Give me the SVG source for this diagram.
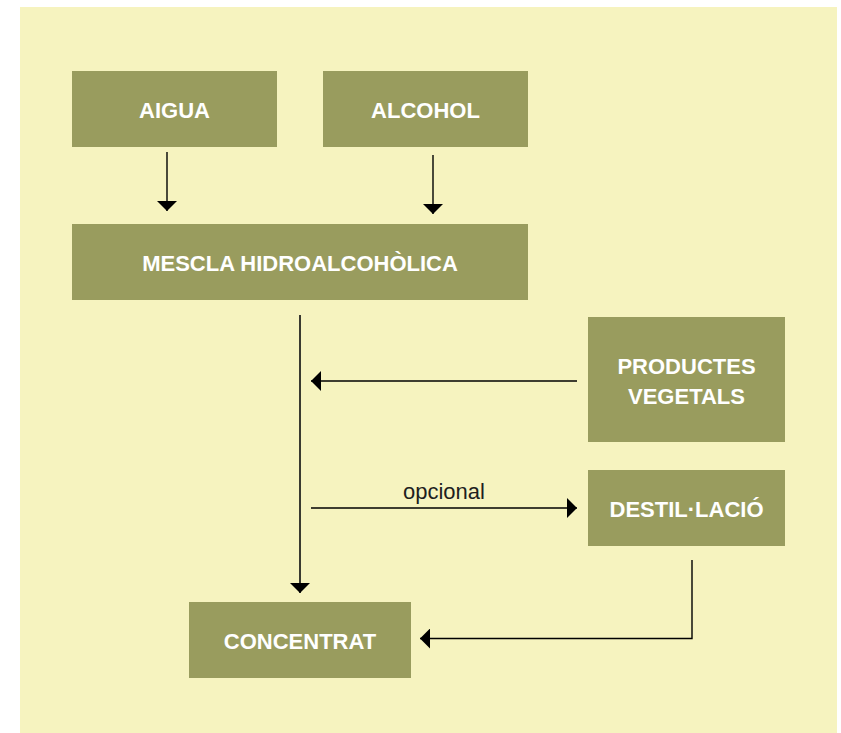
<svg xmlns="http://www.w3.org/2000/svg" width="841" height="733" viewBox="0 0 841 733">
  <defs>
    <style>
      .bg { fill: #f6f3bf; }
      .box { fill: #999c5e; }
      .lbl { font-family: "Liberation Sans", Arial, sans-serif; font-size: 22px; font-weight: bold; fill: #ffffff; text-anchor: middle; }
      .note { font-family: "Liberation Sans", Arial, sans-serif; font-size: 22px; fill: #1e1e1e; text-anchor: middle; }
      .ln { fill: none; stroke: #000000; stroke-width: 1.4; }
      .main { fill: none; stroke: #3a3a30; stroke-width: 2; }
    </style>
    <marker id="ah" viewBox="0 0 10 20" refX="10" refY="10" markerWidth="10" markerHeight="20" markerUnits="userSpaceOnUse" orient="auto">
      <path d="M0,0 L10,10 L0,20 Z" fill="#000000"/>
    </marker>
  </defs>

  <rect class="bg" x="20" y="7" width="817" height="726"/>

  <g id="connectors">
    <line class="ln" x1="167" y1="152" x2="167" y2="211" marker-end="url(#ah)"/>
    <line class="ln" x1="433" y1="155" x2="433" y2="214" marker-end="url(#ah)"/>
    <line class="main" x1="300" y1="315" x2="300" y2="593" marker-end="url(#ah)"/>
    <line class="ln" x1="577" y1="381" x2="311" y2="381" marker-end="url(#ah)"/>
    <line class="ln" x1="311" y1="508" x2="577" y2="508" marker-end="url(#ah)"/>
    <text class="note" x="444" y="499">opcional</text>
    <polyline class="ln" points="692,560 692,638.5 420,638.5" marker-end="url(#ah)"/>
  </g>

  <g id="aigua">
    <rect class="box" x="72" y="71" width="205" height="76"/>
    <text class="lbl" x="174.5" y="118">AIGUA</text>
  </g>

  <g id="alcohol">
    <rect class="box" x="323" y="71" width="205" height="76"/>
    <text class="lbl" x="425.5" y="118">ALCOHOL</text>
  </g>

  <g id="mescla">
    <rect class="box" x="72" y="224" width="456" height="76"/>
    <text class="lbl" x="300" y="271">MESCLA HIDROALCOHÒLICA</text>
  </g>

  <g id="productes">
    <rect class="box" x="588" y="317" width="197" height="125"/>
    <text class="lbl" x="686.5" y="374">PRODUCTES</text>
    <text class="lbl" x="686.5" y="404">VEGETALS</text>
  </g>

  <g id="destillacio">
    <rect class="box" x="588" y="470" width="197" height="76"/>
    <text class="lbl" x="686.5" y="517">DESTIL·LACIÓ</text>
  </g>

  <g id="concentrat">
    <rect class="box" x="189" y="602" width="222" height="76"/>
    <text class="lbl" x="300" y="649">CONCENTRAT</text>
  </g>
</svg>
